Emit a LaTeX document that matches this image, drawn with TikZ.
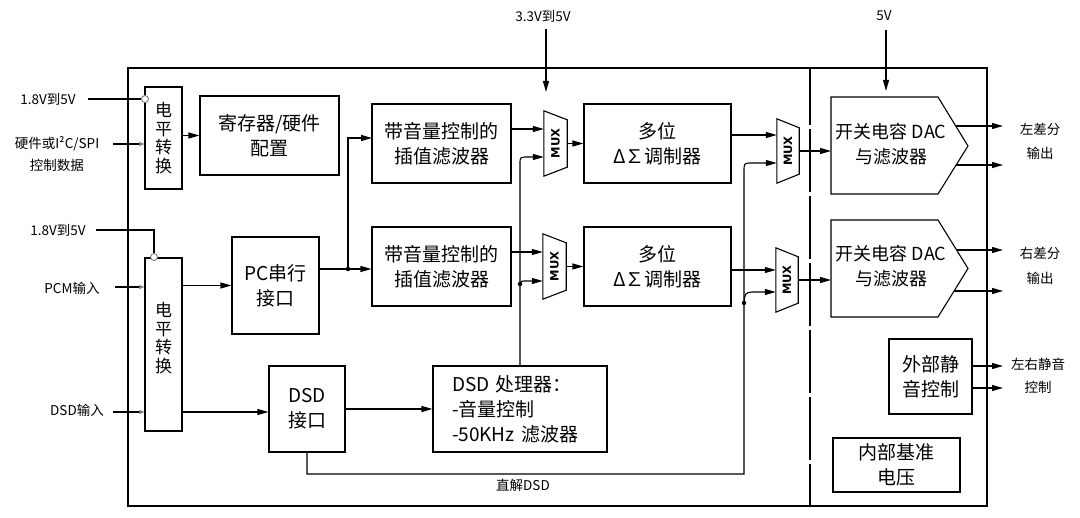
\documentclass[tikz,border=0pt]{standalone}
\usepackage{fontspec}
\setmainfont{Noto Sans CJK SC}
\newfontfamily\muxfont{DejaVu Sans}
\usetikzlibrary{arrows.meta,calc}
\begin{document}
\begin{tikzpicture}[x=1pt,y=-1pt,
  box/.style={draw, line width=1.1pt, align=center, inner sep=0pt, font=\fontsize{19}{25}\selectfont},
  vbox/.style={draw, line width=1.1pt, align=center, inner sep=0pt, font=\fontsize{17}{18.5}\selectfont},
  ghost/.style={draw=none, align=center, inner sep=0pt, font=\fontsize{18}{25}\selectfont},
  lbl/.style={inner sep=0pt, font=\fontsize{13.5}{17}\selectfont},
  wire/.style={line width=1.1pt},
  arr/.style={wire, -{Triangle[length=11pt,width=6pt]}},
  inarr/.style={wire, -{Triangle[open,length=5pt,width=4pt,color=gray]}},
  outl/.style={line width=1.1pt},
  dot/.style={circle, fill, inner sep=0pt, minimum size=4.5pt},
  ring/.style={circle, draw=gray, fill=white, line width=0.9pt, inner sep=0pt, minimum size=7pt},
  muxtxt/.style={font=\muxfont\fontsize{11.5}{11.5}\selectfont\bfseries, rotate=90, inner sep=0pt}
]
\useasboundingbox (0,0) rectangle (1080,518);

% outer frame and divider
\draw[line width=2.2pt] (128,68) rectangle (987,506);
\draw[line width=1.1pt, dash pattern=on 63pt off 4pt, dash phase=6pt] (810,68) -- (810,506);

% level shifters
\node[vbox, minimum width=37pt, minimum height=102pt] (shiftA) at (163.5,138) {电\\平\\转\\换};
\node[vbox, minimum width=37pt, minimum height=173pt, text depth=14pt] (shiftB) at (163.5,344.5) {电\\平\\转\\换};

% boxes
\node[box, minimum width=139pt, minimum height=79pt] (reg) at (269.5,135.5) {寄存器/硬件\\配置};
\node[box, minimum width=87pt, minimum height=97pt] (pc) at (275.5,285.5) {PC串行\\接口};
\node[box, minimum width=76pt, minimum height=86pt] (dsdif) at (307,409) {DSD\\接口};
\node[box, minimum width=139pt, minimum height=79pt] (filtA) at (441.5,143.5) {带音量控制的\\插值滤波器};
\node[box, minimum width=139pt, minimum height=79pt] (filtB) at (441.5,266.5) {带音量控制的\\插值滤波器};
\node[box, minimum width=147pt, minimum height=79pt] (modA) at (657.5,143.5) {多位\\Δ∑调制器};
\node[box, minimum width=147pt, minimum height=79pt] (modB) at (657.5,266.5) {多位\\Δ∑调制器};
\node[box, minimum width=174pt, minimum height=86pt, text width=136pt, align=left] (dsdp) at (520,409) {DSD 处理器：\\-音量控制\\-50KHz 滤波器};
\node[box, minimum width=83pt, minimum height=75pt] (mute) at (930.5,376.5) {外部静\\音控制};
\node[box, minimum width=127pt, minimum height=54pt] (vref) at (896.5,465) {内部基准\\电压};

% DACs
\node[ghost, minimum width=120pt, minimum height=97pt] (dacA) at (891,144) {开关电容 DAC\\与滤波器};
\draw[outl] (831,97) -- (938,97) -- (968,146) -- (938,194) -- (831,194) -- cycle;
\node[ghost, minimum width=120pt, minimum height=97pt] (dacB) at (891,266) {开关电容 DAC\\与滤波器};
\draw[outl] (831,220) -- (938,220) -- (968,268.5) -- (938,317) -- (831,317) -- cycle;

% MUXes
\node[minimum width=23pt, minimum height=65pt, inner sep=0pt] (muxA) at (555.5,143.5) {};
\node[minimum width=23pt, minimum height=65pt, inner sep=0pt] (muxB) at (554.5,266.5) {};
\node[minimum width=22pt, minimum height=64pt, inner sep=0pt] (muxC) at (788,151) {};
\node[minimum width=22pt, minimum height=64pt, inner sep=0pt] (muxD) at (787,280) {};
\foreach \m in {muxA,muxB,muxC,muxD}{
  \draw[outl] (\m.south west) -- (\m.north west) -- ($(\m.north east)+(0,9)$) -- ($(\m.south east)+(0,-9)$) -- cycle;
  \node[muxtxt] at (\m.center) {MUX};
}

% external labels
\node[lbl] (v1) at (48,99) {1.8V到5V};
\node[lbl] (hw1) at (57,144) {硬件或I²C/SPI};
\node[lbl] (hw2) at (57,165) {控制数据};
\node[lbl] (v2) at (58,230) {1.8V到5V};
\node[lbl] (pcm) at (72,288) {PCM输入};
\node[lbl] (dsdin) at (77,410) {DSD输入};
\node[lbl] (v33) at (543,16) {3.3V到5V};
\node[lbl] (v5) at (884,16) {5V};
\node[lbl] (outL1) at (1040,129) {左差分};
\node[lbl] (outL2) at (1040,153) {输出};
\node[lbl] (outR1) at (1040,253) {右差分};
\node[lbl] (outR2) at (1040,278) {输出};
\node[lbl] (mt1) at (1038,364) {左右静音};
\node[lbl] (mt2) at (1038,387) {控制};
\node[lbl] (direct) at (523,485) {直解DSD};

% supply rings
\node[ring] (r1) at (145,99) {};
\node[ring] (r2) at (154,257) {};
\coordinate (v1s) at (88,99);
\coordinate (v2s) at (96,230);
\draw[wire] (v1s) -- (r1.west);
\draw[wire] (v2s) -| (r2.north);

% inputs to level shifters
\coordinate (hws) at (113,144);
\coordinate (pcms) at (115,287);
\coordinate (dsds) at (113,412);
\draw[inarr] (hws) -- (hws -| shiftA.west);
\draw[inarr] (pcms) -- (pcms -| shiftB.west);
\draw[inarr] (dsds) -- (dsds -| shiftB.west);

% power arrows
\coordinate (p33a) at (546,29);
\coordinate (p33b) at (546,92);
\coordinate (p5a) at (886,30);
\coordinate (p5b) at (886,91);
\draw[arr] (p33a) -- (p33b);
\draw[arr] (p5a) -- (p5b);

% left side flow
\draw[arr] (shiftA.east |- reg.west) -- (reg.west);
\draw[arr] (shiftB.east |- pc.west) -- (pc.west);
\draw[arr] (shiftB.east |- dsds) -- (dsds -| dsdif.west);
\draw[arr] (dsdif.east |- dsdp.west) -- (dsdp.west);

\coordinate (j1) at (348,269);
\draw[wire] (pc.east |- j1) -- (j1);
\draw[arr] (j1) -- (j1 -| filtB.west);
\coordinate (fAin) at (372,138);
\draw[arr] (j1) |- (fAin);
\node[dot] at (j1) {};

% filters to MUX A/B
\coordinate (a1) at (511,129);
\coordinate (b1) at (511,252);
\draw[arr] (a1) -- (a1 -| muxA.west);
\draw[arr] (b1) -- (b1 -| muxB.west);

% DSD processor to MUX A/B
\coordinate (jB) at (520,284);
\draw[arr] (dsdp.north) -- (520,164) .. controls (520,157) .. (528,157) -- (muxA.west |- 528,157);
\draw[arr] (jB) .. controls (521,281) .. (527,281) -- (muxB.west |- 527,281);
\node[dot] at (jB) {};

% MUX A/B to modulators
\draw[arr] (muxA.east) -- (muxA.east -| modA.west);
\draw[arr] (muxB.east) -- (muxB.east -| modB.west);

% modulators to MUX C/D
\coordinate (c1) at (731,135);
\coordinate (d1) at (731,270);
\draw[arr] (c1) -- (c1 -| muxC.west);
\draw[arr] (d1) -- (d1 -| muxD.west);

% direct DSD path
\coordinate (jd) at (744,474);
\coordinate (jD) at (744,303);
\draw[arr] (dsdif.south) |- (jd) -- (744,172) .. controls (744,163) .. (752,163) -- (muxC.west |- 752,163);
\draw[arr] (jD) .. controls (745,293) .. (752,292) -- (muxD.west |- 752,292);
\node[dot] at (jD) {};

% MUX C/D to DACs
\draw[arr] (muxC.east) -- (muxC.east -| 831,0);
\draw[arr] (muxD.east) -- (muxD.east -| 831,0);

% outputs
\coordinate (oa1) at (956,126);
\coordinate (oa2) at (956,165);
\coordinate (ob1) at (956.6,250);
\coordinate (ob2) at (954,291);
\draw[arr] (oa1) -- (oa1 -| 1003,0);
\draw[arr] (oa2) -- (oa2 -| 1003,0);
\draw[arr] (ob1) -- (ob1 -| 1003,0);
\draw[arr] (ob2) -- (ob2 -| 1003,0);
\coordinate (m1) at (972,366);
\coordinate (m2) at (972,388);
\draw[arr] (m1 -| mute.east) -- (m1 -| 1003,0);
\draw[arr] (m2 -| mute.east) -- (m2 -| 1003,0);
\end{tikzpicture}
\end{document}
